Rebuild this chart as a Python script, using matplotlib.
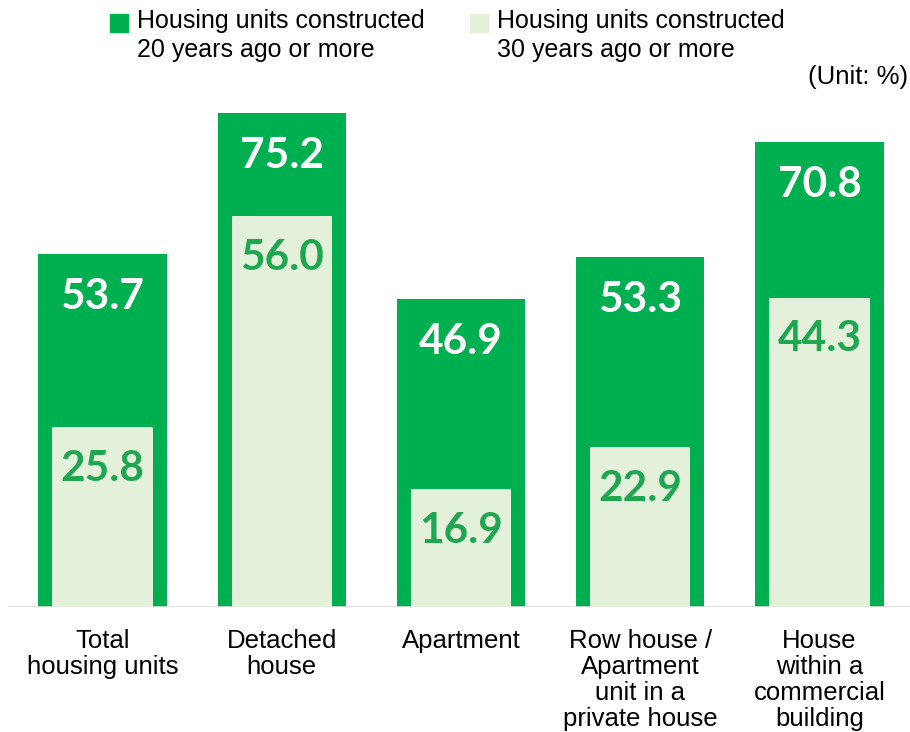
import matplotlib
matplotlib.use('Agg')
import matplotlib.pyplot as plt
from matplotlib.patches import Rectangle

# Datos
categories = ['Total\nhousing units', 'Detached\nhouse', 'Apartment',
              'Row house /\nApartment\nunit in a\nprivate house',
              'House\nwithin a\ncommercial\nbuilding']
over_20 = [53.7, 75.2, 46.9, 53.3, 70.8]
over_30 = [25.8, 56.0, 16.9, 22.9, 44.3]
legend_labels = ['Housing units constructed\n20 years ago or more',
                 'Housing units constructed\n30 years ago or more']

dark_green = '#00B050'
light_green = '#E3F0DA'
text_green = '#1FA650'

plt.rcParams['font.family'] = ['Liberation Sans', 'DejaVu Sans']

W, H = 910, 732
fig = plt.figure(figsize=(W / 100, H / 100), dpi=100)
ax = fig.add_axes([0, 125 / H, 1, 507 / H])
ax2 = ax.twinx()

x = list(range(len(categories)))

# Barras exteriores (20 años o más)
ax.bar(x, over_20, width=0.715, color=dark_green, zorder=2)
ax.set_ylim(0, 507 / 6.57)
# Barras interiores (30 años o más), en su propia escala como en el original
ax2.bar(x, over_30, width=0.56, color=light_green, zorder=2)
ax2.set_ylim(0, 507 / 6.98)

for a in (ax, ax2):
    a.set_xlim(-0.572, 4.505)
    for s in a.spines.values():
        s.set_visible(False)
    a.set_yticks([])

ax.axhline(0, xmin=0.01, xmax=1, color='#D9D9D9', lw=1.2, zorder=3)

num_font = dict(family='Lato', weight='bold', fontsize=30.5)
for xi, v in zip(x, over_20):
    ax.annotate(f'{v:.1f}', (xi, v), xytext=(0, -31), textcoords='offset points',
                ha='center', va='center', color='white', zorder=5, **num_font)
for xi, v in zip(x, over_30):
    ax2.annotate(f'{v:.1f}', (xi, v), xytext=(0, -30), textcoords='offset points',
                 ha='center', va='center', color=text_green, zorder=5, **num_font)

ax.set_xticks(x)
ax.set_xticklabels(categories, fontsize=18.5, linespacing=1.1)
ax.tick_params(axis='x', length=0, pad=16)
ax2.tick_params(axis='x', length=0)

# Leyenda manual
for x0, col, lab in [(110, dark_green, legend_labels[0]), (470, light_green, legend_labels[1])]:
    fig.patches.append(Rectangle((x0 / W, 1 - 32 / H), 18 / W, 18 / H,
                                 transform=fig.transFigure, color=col))
    fig.text((x0 + 27) / W, 1 - 9 / H, lab, fontsize=18, va='top', ha='left',
             linespacing=1.25)

fig.text(908 / W, 1 - 77 / H, '(Unit: %)', fontsize=18.5, ha='right', va='center')

fig.savefig('out.png', dpi=100, facecolor='white')
